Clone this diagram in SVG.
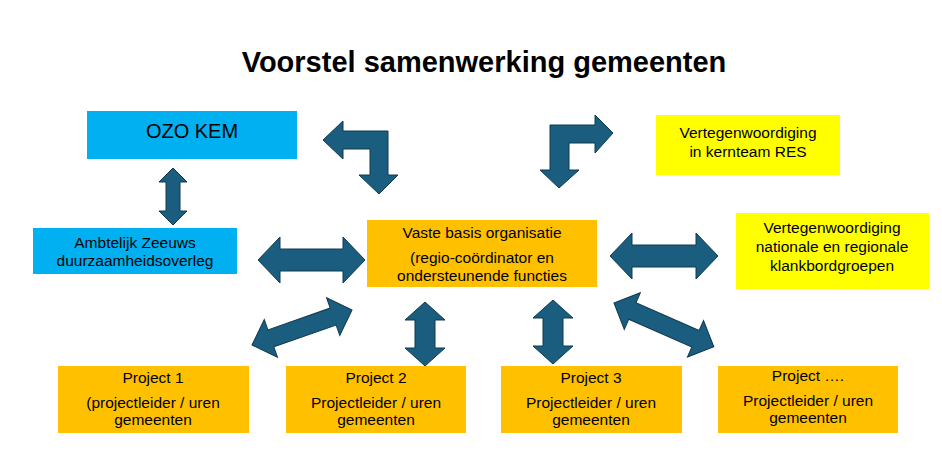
<svg xmlns="http://www.w3.org/2000/svg" width="942" height="452" viewBox="0 0 942 452">
<style>
text{font-family:"Liberation Sans",Arial,sans-serif;fill:#000;text-anchor:middle}
.t{font-size:15.5px}
.arr{fill:#1A5D7E;stroke:#0F3A50;stroke-width:1}
</style>
<defs>
<path id="dbl" d="M0,0 L22,-23 L22,-11 L-22,-11 L-22,-23 L0,0 Z"/>
</defs>
<rect width="942" height="452" fill="#fff"/>
<text x="484" y="72" style="font-size:29px;font-weight:bold">Voorstel samenwerking gemeenten</text>
<g id="ozo"><rect x="87" y="111" width="210" height="48" fill="#00B0F0"/><text x="192" y="138" style="font-size:20px">OZO KEM</text></g>
<g id="ambtelijk"><rect x="33" y="228" width="204" height="46" fill="#00B0F0"/><text class="t" x="135" y="248">Ambtelijk Zeeuws</text><text class="t" x="135" y="266">duurzaamheidsoverleg</text></g>
<g id="vaste"><rect x="367" y="220" width="230" height="67" fill="#FFC000"/><text class="t" x="482" y="238">Vaste basis organisatie</text><text class="t" x="482" y="263">(regio-coördinator en</text><text class="t" x="482" y="281">ondersteunende functies</text></g>
<g id="res"><rect x="656" y="115" width="184" height="60" fill="#FFFF00"/><text class="t" x="748" y="138">Vertegenwoordiging</text><text class="t" x="748" y="157">in kernteam RES</text></g>
<g id="nat"><rect x="736" y="213" width="193" height="76" fill="#FFFF00"/><text class="t" x="832" y="233">Vertegenwoordiging</text><text class="t" x="832" y="252">nationale en regionale</text><text class="t" x="832" y="271">klankbordgroepen</text></g>
<g id="p1"><rect x="58" y="366" width="191" height="67" fill="#FFC000"/><text class="t" x="153" y="383">Project 1</text><text class="t" x="153" y="408">(projectleider / uren</text><text class="t" x="153" y="425">gemeenten</text></g>
<g id="p2"><rect x="286" y="366" width="180" height="67" fill="#FFC000"/><text class="t" x="376" y="383">Project 2</text><text class="t" x="376" y="408">Projectleider / uren</text><text class="t" x="376" y="425">gemeenten</text></g>
<g id="p3"><rect x="501" y="366" width="181" height="67" fill="#FFC000"/><text class="t" x="591" y="383">Project 3</text><text class="t" x="591" y="408">Projectleider / uren</text><text class="t" x="591" y="425">gemeenten</text></g>
<g id="p4"><rect x="718" y="366" width="180" height="67" fill="#FFC000"/><text class="t" x="808" y="381">Project ….</text><text class="t" x="808" y="406">Projectleider / uren</text><text class="t" x="808" y="423">gemeenten</text></g>
<g id="connectors" class="arr">
<path d="M323,140 L343,121 L343,131 L388,131 L388,175 L398,175 L379,194 L359,175 L370,175 L370,149 L343,149 L343,159 Z"/>
<path d="M613,133 L595,115 L595,125 L550,125 L550,170 L540,170 L559,188 L579,170 L569,170 L569,143 L595,143 L595,153 Z"/>
<path transform="translate(173,168) rotate(90)" d="M0,0 L14,-14 L14,-7 L43,-7 L43,-14 L57,0 L43,14 L43,7 L14,7 L14,14 Z"/>
<path transform="translate(258,260)" d="M0,0 L22,-23 L22,-11 L85,-11 L85,-23 L107,0 L85,23 L85,11 L22,11 L22,23 Z"/>
<path transform="translate(610,256)" d="M0,0 L22,-23 L22,-11 L86,-11 L86,-23 L108,0 L86,23 L86,11 L22,11 L22,23 Z"/>
<path transform="translate(252,345) rotate(-19.3)" d="M0,0 L20,-20 L20,-9 L86,-9 L86,-20 L106,0 L86,20 L86,9 L20,9 L20,20 Z"/>
<path transform="translate(614,303) rotate(23.7)" d="M0,0 L20,-20 L20,-9 L89,-9 L89,-20 L109,0 L89,20 L89,9 L20,9 L20,20 Z"/>
<path transform="translate(425,302) rotate(90)" d="M0,0 L18,-20 L18,-10 L46,-10 L46,-20 L64,0 L46,20 L46,10 L18,10 L18,20 Z"/>
<path transform="translate(553,300) rotate(90)" d="M0,0 L18,-20 L18,-10 L46,-10 L46,-20 L64,0 L46,20 L46,10 L18,10 L18,20 Z"/>
</g>
</svg>
